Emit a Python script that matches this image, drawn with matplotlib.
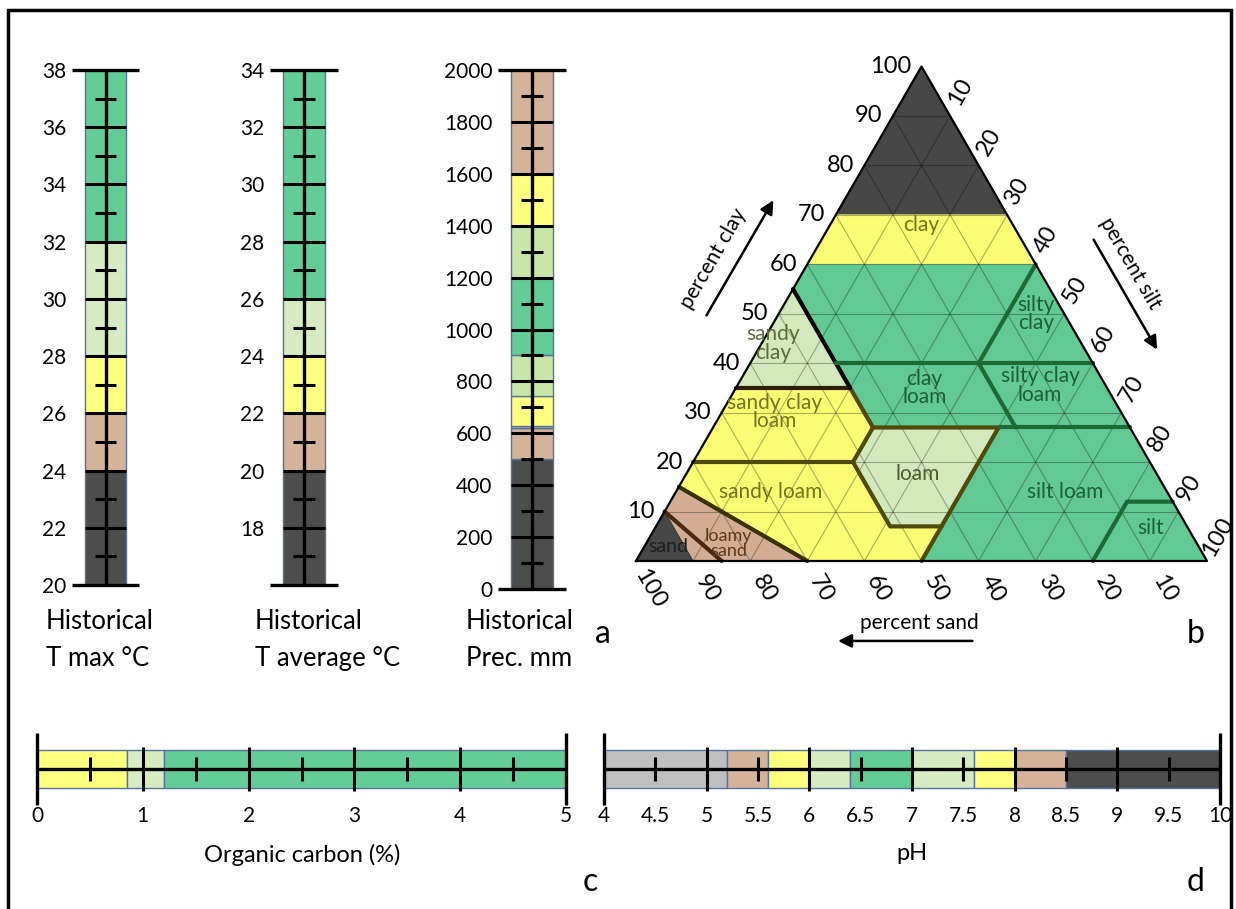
import numpy as np
import matplotlib.pyplot as plt
from matplotlib.patches import Polygon, Rectangle

# ---- colours
GREEN = '#64cc96'
LGREEN = '#d7ebc2'
LGREEN2 = '#c8e6a8'
YELLOW = '#ffff80'
TAN = '#d5b39b'
DARK = '#4d4d4d'
GRAY = '#bfbfbf'
OUTLINE = '#56739c'

# ---- panel a data
tmax_edges = [20, 24, 26, 28, 32, 38]
tmax_colors = [DARK, TAN, YELLOW, LGREEN, GREEN]
tmax_labels = list(range(20, 39, 2))

tavg_edges = [16, 20, 22, 24, 26, 34]
tavg_colors = [DARK, TAN, YELLOW, LGREEN, GREEN]
tavg_labels = list(range(18, 35, 2))

prec_edges = [0, 500, 620, 630, 745, 900, 1200, 1400, 1600, 2000]
prec_colors = [DARK, TAN, TAN, YELLOW, LGREEN2, GREEN, LGREEN2, YELLOW, TAN]
prec_labels = list(range(0, 2001, 200))

# ---- panel c / d data
oc_edges = [0, 0.85, 1.2, 5]
oc_colors = [YELLOW, LGREEN, GREEN]
oc_labels = [0, 1, 2, 3, 4, 5]

ph_edges = [4, 5.2, 5.6, 6, 6.4, 7, 7.6, 8, 8.5, 10]
ph_colors = [GRAY, TAN, YELLOW, LGREEN, GREEN, LGREEN, YELLOW, TAN, DARK]
ph_labels = [4, 4.5, 5, 5.5, 6, 6.5, 7, 7.5, 8, 8.5, 9, 9.5, 10]

# ---- panel b: soil texture triangle (sand, silt, clay)
T_GREEN = '#62c993'
T_YELLOW = '#fbfb74'
T_LGREEN = '#d3e9bd'
T_TAN = '#d2ad94'
T_DARK = '#474747'

tri_polys = [
    [(0, 0, 100), (30, 0, 70), (0, 30, 70)],
    [(30, 0, 70), (40, 0, 60), (0, 40, 60), (0, 30, 70)],
    [(40, 0, 60), (45, 0, 55), (45, 15, 40), (20, 40, 40), (0, 40, 60)],
    [(20, 40, 40), (0, 60, 40), (0, 40, 60)],
    [(45, 28, 27), (20, 53, 27), (20, 40, 40), (45, 15, 40)],
    [(20, 53, 27), (0, 73, 27), (0, 60, 40), (20, 40, 40)],
    [(50, 50, 0), (20, 80, 0), (8, 80, 12), (0, 88, 12), (0, 73, 27), (23, 50, 27), (43, 50, 7)],
    [(20, 80, 0), (0, 100, 0), (0, 88, 12), (8, 80, 12)],
    [(65, 0, 35), (45, 20, 35), (45, 0, 55)],
    [(52, 41, 7), (43, 50, 7), (23, 50, 27), (45, 28, 27), (52, 28, 20)],
    [(80, 0, 20), (52, 28, 20), (45, 28, 27), (45, 20, 35), (65, 0, 35)],
    [(85, 0, 15), (70, 30, 0), (50, 50, 0), (43, 50, 7), (52, 41, 7), (52, 28, 20), (80, 0, 20)],
    [(90, 0, 10), (85, 0, 15), (70, 30, 0), (90, 10, 0)],
    [(100, 0, 0), (90, 10, 0), (90, 0, 10)],
]
tri_colors = [T_DARK, T_YELLOW, T_GREEN, T_GREEN, T_GREEN, T_GREEN, T_GREEN, T_GREEN,
              T_LGREEN, T_LGREEN, T_YELLOW, T_YELLOW, T_TAN, T_DARK]

B_GREEN = '#1c6b35'
B_OLIVE = '#4d4a0a'
B_BROWN = '#4a2810'
tri_bounds = [
    ([(85, 15, 0), (90, 0, 10)], B_BROWN),
    ([(70, 30, 0), (85, 0, 15)], '#3a3000'),
    ([(80, 0, 20), (52, 28, 20)], B_OLIVE),
    ([(50, 50, 0), (43, 50, 7), (52, 41, 7), (52, 28, 20), (45, 28, 27), (23, 50, 27), (43, 50, 7)], B_OLIVE),
    ([(45, 20, 35), (45, 28, 27)], B_OLIVE),
    ([(65, 0, 35), (45, 20, 35)], '#2a2000'),
    ([(45, 0, 55), (45, 20, 35)], 'black'),
    ([(45, 15, 40), (0, 60, 40)], B_GREEN),
    ([(20, 40, 40), (0, 40, 60)], B_GREEN),
    ([(20, 40, 40), (20, 53, 27)], B_GREEN),
    ([(23, 50, 27), (0, 73, 27)], B_GREEN),
    ([(20, 80, 0), (8, 80, 12), (0, 88, 12)], B_GREEN),
]

tri_names = ['clay', 'silty\nclay', 'sandy\nclay', 'clay\nloam', 'silty clay\nloam',
             'sandy clay\nloam', 'loam', 'sandy loam', 'silt loam', 'silt', 'loamy\nsand', 'sand']
tri_name_pos = [(16, 16, 68), (5, 45, 50), (54, 2, 44), (32, 33, 35), (11.5, 53, 35.5),
                (60.6, 9.3, 30.1), (41.8, 40.6, 17.6), (69.4, 16.6, 14), (17.9, 68.1, 14),
                (6.6, 86.7, 6.7), (82.0, 14.5, 3.5), (92.9, 4.1, 3)]
tri_name_colors = ['#75751e', '#1a6135', '#5c6a3e', '#1a6135', '#1a6135', '#75751e',
                   '#4f5a30', '#75751e', '#1a6135', '#1a6135', '#5a3820', '#1e1e1e']
tri_name_sizes = [15, 15, 15, 15, 15, 15, 15, 15, 15, 15, 13, 14]
tick_vals = [10, 20, 30, 40, 50, 60, 70, 80, 90, 100]

W, H = 1236, 909
fig = plt.figure(figsize=(W / 100, H / 100), dpi=100)
NUMFONT = 'Lato'


def px_axes(x0, y0, x1, y1):
    ax = fig.add_axes([x0 / W, 1 - y1 / H, (x1 - x0) / W, (y1 - y0) / H])
    for s in ax.spines.values():
        s.set_visible(False)
    return ax


def vbar(box, edges, colors, labels, major, minor, bw):
    ax = px_axes(*box)
    ax.set_xlim(0, 1)
    ax.set_ylim(edges[0], edges[-1])
    for lo, hi, c in zip(edges[:-1], edges[1:], colors):
        ax.bar(0.5, hi - lo, bottom=lo, width=bw, color=c, edgecolor=OUTLINE, linewidth=1, zorder=1)
    ax.axvline(0.5, color='k', lw=2.4, zorder=3)
    ax.hlines(major, 0.5 - bw / 2, 0.5 + bw / 2, color='k', lw=2.2, zorder=3)
    ax.hlines(minor, 0.34, 0.66, color='k', lw=2.2, zorder=3)
    ax.hlines([edges[0], edges[-1]], 0, 1, color='k', lw=2.4, zorder=3, clip_on=False)
    ax.set_xticks([])
    ax.set_yticks(labels, [str(v) for v in labels])
    ax.tick_params(axis='y', length=0, pad=4, labelsize=15)
    for t in ax.get_yticklabels():
        t.set_fontfamily(NUMFONT)
    return ax


def hbar(box, edges, colors, labels, major, minor):
    ax = px_axes(*box)
    ax.set_ylim(0, 1)
    ax.set_xlim(edges[0], edges[-1])
    for lo, hi, c in zip(edges[:-1], edges[1:], colors):
        ax.barh(0.5, hi - lo, left=lo, height=0.53, color=c, edgecolor=OUTLINE, linewidth=1, zorder=1)
    ax.axhline(0.5, color='k', lw=2.4, zorder=3)
    ax.vlines(major, 0.19, 0.81, color='k', lw=2.2, zorder=3)
    ax.vlines(minor, 0.33, 0.67, color='k', lw=2.2, zorder=3)
    ax.vlines([edges[0], edges[-1]], 0, 1, color='k', lw=2.4, zorder=3, clip_on=False)
    ax.set_yticks([])
    ax.set_xticks(labels, ['{:g}'.format(v) for v in labels])
    ax.tick_params(axis='x', length=0, pad=1, labelsize=15)
    for t in ax.get_xticklabels():
        t.set_fontfamily(NUMFONT)
    return ax


# panel a
vbar((72, 70, 139, 585), tmax_edges, tmax_colors, tmax_labels,
     list(range(22, 37, 2)), list(range(21, 38, 2)), 0.61)
vbar((270, 70, 338, 585), tavg_edges, tavg_colors, tavg_labels,
     list(range(18, 33, 2)), list(range(17, 34, 2)), 0.61)
vbar((498, 70, 566, 589), prec_edges, prec_colors, prec_labels,
     list(range(200, 1801, 200)), list(range(100, 2000, 200)), 0.63)

for x, txt in [(46, 'Historical\nT max °C'), (255, 'Historical\nT average °C'), (466, 'Historical\nPrec. mm')]:
    fig.text(x / W, 1 - 609 / H, txt, ha='left', va='top', fontsize=18.5, family=NUMFONT, linespacing=1.62)

# panels c and d
hbar((37, 733, 566, 805), oc_edges, oc_colors, oc_labels, [1, 2, 3, 4], [0.5, 1.5, 2.5, 3.5, 4.5])
hbar((604, 733, 1220, 805), ph_edges, ph_colors, ph_labels,
     [5, 6, 7, 8, 9], [4.5, 5.5, 6.5, 7.5, 8.5, 9.5])
fig.text(302 / W, 1 - 855 / H, 'Organic carbon (%)', ha='center', va='center', fontsize=17, family=NUMFONT)
fig.text(912 / W, 1 - 853 / H, 'pH', ha='center', va='center', fontsize=17, family=NUMFONT)

# panel b: triangle
S3 = np.sqrt(3) / 2


def tern(p):
    sand, silt, clay = p
    return silt + clay / 2, clay * S3


axt = px_axes(636 - 8 * 5.71, 561 - 94 * 5.71, 636 + 104 * 5.71, 561 + 16 * 5.71)
axt.set_xlim(-8, 104)
axt.set_ylim(-16, 94)
axt.set_xticks([])
axt.set_yticks([])
axt.patch.set_alpha(0)

for poly, c in zip(tri_polys, tri_colors):
    axt.add_patch(Polygon([tern(p) for p in poly], closed=True, facecolor=c, edgecolor=c, lw=0.5, zorder=1))

for v in range(10, 100, 10):
    for a, b in [((100 - v, 0, v), (0, 100 - v, v)),
                 ((100 - v, v, 0), (0, v, 100 - v)),
                 ((v, 100 - v, 0), (v, 0, 100 - v))]:
        pa, pb = tern(a), tern(b)
        axt.plot([pa[0], pb[0]], [pa[1], pb[1]], color='black', alpha=0.3, lw=0.8, zorder=2)

for line, c in tri_bounds:
    xy = np.array([tern(p) for p in line])
    axt.plot(xy[:, 0], xy[:, 1], color=c, lw=3, solid_capstyle='round', solid_joinstyle='round', zorder=4)

outer = np.array([tern(p) for p in [(100, 0, 0), (0, 100, 0), (0, 0, 100), (100, 0, 0)]])
axt.plot(outer[:, 0], outer[:, 1], color='black', lw=1.6, zorder=5)

for name, p, c, fs in zip(tri_names, tri_name_pos, tri_name_colors, tri_name_sizes):
    x, y = tern(p)
    axt.text(x, y, name, ha='center', va='center', fontsize=fs, color=c, family=NUMFONT,
             linespacing=0.9, zorder=6)

for v in tick_vals:
    # clay (left edge)
    x, y = tern((100 - v, 0, v))
    axt.text(x - 1.8, y, str(v), ha='right', va='center', fontsize=17, family=NUMFONT)
    # silt (right edge)
    x, y = tern((0, v, 100 - v))
    axt.text(x + 1.8, y + 4.2, str(v), ha='center', va='center', rotation=60, fontsize=17, family=NUMFONT)
    # sand (bottom edge)
    x, y = tern((v, 100 - v, 0))
    axt.text(x + 2.5, y - 4.8, str(v), ha='center', va='center', rotation=-60, fontsize=17, family=NUMFONT)

arrow = dict(arrowstyle='-|>', color='black', lw=1.8, mutation_scale=20)
axt.annotate('', xy=(24.3, 63.6), xytext=(12.1, 42.6), arrowprops=arrow)
axt.text(13.6, 52.9, 'percent clay', rotation=60, ha='center', va='center', fontsize=15, family=NUMFONT)
axt.annotate('', xy=(91.5, 36.6), xytext=(79.9, 56.7), arrowprops=arrow)
axt.text(86.6, 52.2, 'percent silt', rotation=-60, ha='center', va='center', fontsize=15, family=NUMFONT)
axt.annotate('', xy=(34.9, -14.0), xytext=(59.4, -14.0), arrowprops=arrow)
axt.text(49.7, -10.8, 'percent sand', ha='center', va='center', fontsize=15, family=NUMFONT)

# panel letters
for x, y, s in [(603, 634, 'a'), (1196, 634, 'b'), (590, 882, 'c'), (1196, 882, 'd')]:
    fig.text(x / W, 1 - y / H, s, ha='center', va='center', fontsize=23, family=NUMFONT)

# frame around the figure
fig.add_artist(Rectangle((8 / W, -0.05), (1231 - 8) / W, 1.05 - 10 / H, transform=fig.transFigure,
                         fill=False, lw=2.5, edgecolor='black'))

fig.savefig('out.png', dpi=100)
